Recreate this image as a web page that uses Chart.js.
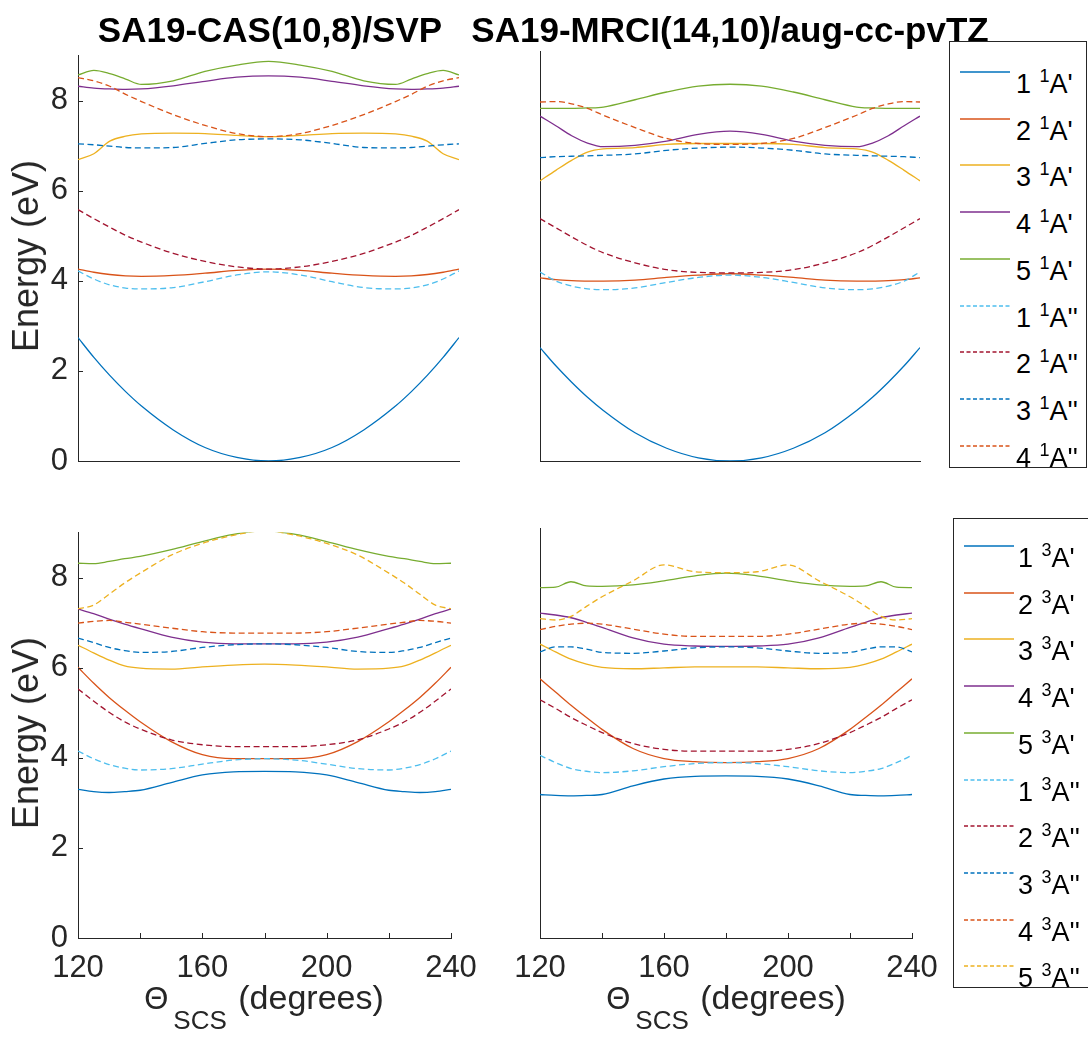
<!DOCTYPE html>
<html>
<head>
<meta charset="utf-8">
<script src="https://cdn.jsdelivr.net/npm/chart.js@4.4.1/dist/chart.umd.min.js"></script>
<style>
  html, body { margin: 0; padding: 0; background: #fff; }
  body { width: 1088px; height: 1042px; position: relative; overflow: hidden; font-family: 'Liberation Sans', Arial, sans-serif; color: #000; }
  .abs { position: absolute; white-space: nowrap; }
  .title { font-weight: bold; font-size: 35px; line-height: 35px; transform: translateX(-50%); }
  .ylab { font-size: 36px; line-height: 40px; transform: translate(-50%, -50%) rotate(-90deg); color: #262626; }
  .xlab { font-size: 34px; line-height: 34px; transform: translateX(-50%); color: #262626; }
  .xlab .th { font-size: 31px; }
  .xlab sub { font-size: 26px; vertical-align: -20px; margin-left: 5px; margin-right: 2px; }
  .legend { position: absolute; border: 1px solid #262626; background: #fff; }
  .legend .row { position: absolute; font-size: 27px; line-height: 28px; white-space: nowrap; }
  .legend sup { font-size: 18px; vertical-align: 11px; margin-left: 1px; }
  .legend svg { position: absolute; }
</style>
</head>
<body>

<script>
// ── Data ──────────────────────────────────────────────────────────────────
// scan angle (degrees), shared by every curve
const THETA = [120, 125, 130, 135, 140, 150, 160, 170, 180, 190, 200, 210, 220, 225, 230, 235, 240];

// singlets, SA19-CAS(10,8)/SVP
const casS_1Ap  = [2.74, 2.30, 1.90, 1.54, 1.22, 0.69, 0.30, 0.08, 0.00, 0.08, 0.30, 0.69, 1.22, 1.54, 1.90, 2.30, 2.74];
const casS_2Ap  = [4.26, 4.19, 4.14, 4.11, 4.10, 4.12, 4.17, 4.23, 4.26, 4.23, 4.17, 4.12, 4.10, 4.11, 4.14, 4.19, 4.26];
const casS_3Ap  = [6.69, 6.82, 7.10, 7.21, 7.26, 7.28, 7.27, 7.23, 7.20, 7.23, 7.27, 7.28, 7.26, 7.21, 7.10, 6.82, 6.69];
const casS_4Ap  = [8.32, 8.28, 8.26, 8.25, 8.26, 8.33, 8.43, 8.52, 8.55, 8.52, 8.43, 8.33, 8.26, 8.25, 8.26, 8.28, 8.32];
const casS_5Ap  = [8.57, 8.67, 8.60, 8.48, 8.36, 8.44, 8.65, 8.79, 8.87, 8.79, 8.65, 8.44, 8.36, 8.48, 8.60, 8.67, 8.57];
const casS_1App = [4.22, 4.04, 3.91, 3.84, 3.82, 3.85, 3.98, 4.13, 4.20, 4.13, 3.98, 3.85, 3.82, 3.84, 3.91, 4.04, 4.22];
const casS_2App = [5.58, 5.38, 5.19, 5.01, 4.86, 4.61, 4.43, 4.31, 4.26, 4.31, 4.43, 4.61, 4.86, 5.01, 5.19, 5.38, 5.58];
const casS_3App = [7.04, 7.02, 6.99, 6.96, 6.95, 6.96, 7.05, 7.13, 7.15, 7.13, 7.05, 6.96, 6.95, 6.96, 6.99, 7.02, 7.04];
const casS_4App = [8.51, 8.44, 8.32, 8.14, 7.98, 7.69, 7.45, 7.27, 7.20, 7.27, 7.45, 7.69, 7.98, 8.14, 8.32, 8.44, 8.51];

// singlets, SA19-MRCI(14,10)/aug-cc-pvTZ
const mrS_1Ap  = [2.49, 2.09, 1.73, 1.40, 1.11, 0.62, 0.28, 0.07, 0.00, 0.07, 0.28, 0.62, 1.11, 1.40, 1.73, 2.09, 2.49];
const mrS_2Ap  = [4.02, 3.98, 3.96, 3.95, 3.95, 3.97, 4.03, 4.08, 4.11, 4.08, 4.03, 3.97, 3.95, 3.95, 3.96, 3.98, 4.02];
const mrS_3Ap  = [6.15, 6.38, 6.60, 6.78, 6.85, 6.88, 6.95, 6.97, 6.97, 6.97, 6.95, 6.88, 6.85, 6.78, 6.60, 6.38, 6.15];
const mrS_4Ap  = [7.57, 7.36, 7.14, 6.98, 6.90, 6.93, 7.02, 7.17, 7.24, 7.17, 7.02, 6.93, 6.90, 6.98, 7.14, 7.36, 7.57];
const mrS_5Ap  = [7.74, 7.74, 7.74, 7.75, 7.77, 7.93, 8.10, 8.23, 8.27, 8.23, 8.10, 7.93, 7.77, 7.75, 7.74, 7.74, 7.74];
const mrS_1App = [4.15, 3.95, 3.84, 3.78, 3.76, 3.80, 3.92, 4.03, 4.08, 4.03, 3.92, 3.80, 3.76, 3.78, 3.84, 3.95, 4.15];
const mrS_2App = [5.32, 5.12, 4.92, 4.73, 4.57, 4.35, 4.20, 4.14, 4.13, 4.14, 4.20, 4.35, 4.57, 4.73, 4.92, 5.12, 5.32];
const mrS_3App = [6.66, 6.68, 6.69, 6.70, 6.71, 6.74, 6.82, 6.87, 6.89, 6.87, 6.82, 6.74, 6.71, 6.70, 6.69, 6.68, 6.66];
const mrS_4App = [7.88, 7.89, 7.84, 7.74, 7.59, 7.32, 7.08, 6.97, 6.95, 6.97, 7.08, 7.32, 7.59, 7.74, 7.84, 7.89, 7.88];

// triplets, SA19-CAS(10,8)/SVP
const casT_1Ap  = [3.30, 3.25, 3.23, 3.25, 3.28, 3.45, 3.62, 3.69, 3.70, 3.69, 3.62, 3.45, 3.28, 3.25, 3.23, 3.25, 3.30];
const casT_2Ap  = [6.01, 5.66, 5.34, 5.06, 4.80, 4.36, 4.07, 3.98, 3.98, 3.98, 4.07, 4.36, 4.80, 5.06, 5.34, 5.66, 6.01];
const casT_3Ap  = [6.50, 6.33, 6.17, 6.04, 5.99, 5.97, 6.02, 6.06, 6.08, 6.06, 6.02, 5.97, 5.99, 6.04, 6.17, 6.33, 6.50];
const casT_4Ap  = [7.30, 7.20, 7.08, 6.97, 6.87, 6.68, 6.57, 6.53, 6.53, 6.53, 6.57, 6.68, 6.87, 6.97, 7.08, 7.20, 7.30];
const casT_5Ap  = [8.32, 8.31, 8.36, 8.42, 8.47, 8.62, 8.80, 8.96, 9.04, 8.96, 8.80, 8.62, 8.47, 8.42, 8.36, 8.31, 8.32];
const casT_1App = [4.15, 3.98, 3.85, 3.77, 3.73, 3.76, 3.86, 3.95, 3.98, 3.95, 3.86, 3.76, 3.73, 3.77, 3.85, 3.98, 4.15];
const casT_2App = [5.53, 5.26, 5.01, 4.80, 4.64, 4.40, 4.29, 4.25, 4.25, 4.25, 4.29, 4.40, 4.64, 4.80, 5.01, 5.26, 5.53];
const casT_3App = [6.66, 6.56, 6.45, 6.38, 6.34, 6.36, 6.45, 6.51, 6.53, 6.51, 6.45, 6.36, 6.34, 6.38, 6.45, 6.56, 6.66];
const casT_4App = [6.99, 7.03, 7.05, 7.01, 6.97, 6.88, 6.80, 6.77, 6.77, 6.77, 6.80, 6.88, 6.97, 7.01, 7.05, 7.03, 6.99];
const casT_5App = [7.31, 7.39, 7.63, 7.88, 8.10, 8.50, 8.76, 8.94, 9.04, 8.94, 8.76, 8.50, 8.10, 7.88, 7.63, 7.39, 7.31];

// triplets, SA19-MRCI(14,10)/aug-cc-pvTZ
const mrT_1Ap  = [3.15, 3.13, 3.12, 3.13, 3.15, 3.34, 3.49, 3.55, 3.56, 3.55, 3.49, 3.34, 3.15, 3.13, 3.12, 3.13, 3.15];
const mrT_2Ap  = [5.69, 5.40, 5.11, 4.84, 4.58, 4.16, 3.94, 3.87, 3.85, 3.87, 3.94, 4.16, 4.58, 4.84, 5.11, 5.40, 5.69];
const mrT_3Ap  = [6.45, 6.28, 6.12, 6.01, 5.94, 5.91, 5.93, 5.95, 5.95, 5.95, 5.93, 5.91, 5.94, 6.01, 6.12, 6.28, 6.45];
const mrT_4Ap  = [7.13, 7.09, 7.03, 6.93, 6.82, 6.59, 6.45, 6.41, 6.40, 6.41, 6.45, 6.59, 6.82, 6.93, 7.03, 7.09, 7.13];
const mrT_5Ap  = [7.69, 7.70, 7.82, 7.73, 7.72, 7.75, 7.84, 7.95, 8.01, 7.95, 7.84, 7.75, 7.72, 7.73, 7.82, 7.70, 7.69];
const mrT_1App = [4.01, 3.85, 3.72, 3.66, 3.63, 3.67, 3.76, 3.83, 3.85, 3.83, 3.76, 3.67, 3.63, 3.66, 3.72, 3.85, 4.01];
const mrT_2App = [5.23, 5.04, 4.84, 4.67, 4.51, 4.27, 4.14, 4.10, 4.10, 4.10, 4.14, 4.27, 4.51, 4.67, 4.84, 5.04, 5.23];
const mrT_3App = [6.28, 6.39, 6.39, 6.34, 6.27, 6.25, 6.30, 6.37, 6.39, 6.37, 6.30, 6.25, 6.27, 6.34, 6.39, 6.39, 6.28];
const mrT_4App = [6.77, 6.84, 6.89, 6.91, 6.89, 6.78, 6.67, 6.62, 6.62, 6.62, 6.67, 6.78, 6.89, 6.91, 6.89, 6.84, 6.77];
const mrT_5App = [7.01, 6.98, 7.06, 7.28, 7.49, 7.84, 8.19, 8.04, 8.02, 8.04, 8.19, 7.84, 7.49, 7.28, 7.06, 6.98, 7.01];

// legend entries: state number and symmetry label
const STATE_NUM = ['1', '2', '3', '4', '5', '1', '2', '3', '4', '5'];
const STATE_SYM = ["A'", "A'", "A'", "A'", "A'", "A''", "A''", "A''", "A''", "A''"];

// axis ticks
const X_TICKS_LABELLED = [120, 160, 200, 240];
const Y_TICKS = [0, 2, 4, 6, 8];

// MATLAB default line colour order
const COLORS = ['#0072BD', '#D95319', '#EDB120', '#7E2F8E', '#77AC30', '#4DBEEE', '#A2142F'];
const FONT = "'Liberation Sans', Arial, sans-serif";
const AXIS = '#262626';

// ── Inward tick marks (MATLAB style) ─────────────────────────────────────
const inTicks = {
    id: 'inTicks',
    afterDatasetsDraw(chart, args, opts) {
        const { ctx, chartArea: a, scales: { x, y } } = chart;
        ctx.save();
        ctx.strokeStyle = AXIS;
        ctx.lineWidth = 1;
        ctx.beginPath();
        if (opts.x) x.ticks.forEach(t => {
            const px = Math.round(x.getPixelForValue(t.value)) + 0.5;
            ctx.moveTo(px, a.bottom); ctx.lineTo(px, a.bottom - 5);
        });
        if (opts.y) y.ticks.forEach(t => {
            const py = Math.round(y.getPixelForValue(t.value)) + 0.5;
            ctx.moveTo(a.left, py); ctx.lineTo(a.left + 5, py);
        });
        ctx.stroke();
        ctx.restore();
    }
};

// ── Panel builder ────────────────────────────────────────────────────────
// fixed margins so the plot area lands exactly on the given box
const Y_AXIS_W = 80, X_AXIS_H = 60, PAD_T = 24, PAD_R = 50;

function makePanel(box, series, showX, showY) {
    const cv = document.createElement('canvas');
    const w = (box.r - box.l) + Y_AXIS_W + PAD_R;
    const h = (box.b - box.t) + PAD_T + X_AXIS_H;
    cv.width = w; cv.height = h;
    cv.style.cssText = `position:absolute;left:${box.l - Y_AXIS_W}px;top:${box.t - PAD_T}px;width:${w}px;height:${h}px;`;
    document.body.appendChild(cv);

    const datasets = series.map((vals, i) => ({
        data: vals.map((v, k) => ({ x: THETA[k], y: v })),
        borderColor: COLORS[i % COLORS.length],
        borderWidth: 1.3,
        borderDash: i >= 5 ? [6, 3.5] : [],
        pointRadius: 0,
        cubicInterpolationMode: 'monotone',
        fill: false,
        order: 20 - i
    }));

    return new Chart(cv.getContext('2d'), {
        type: 'line',
        data: { datasets },
        options: {
            responsive: false,
            animation: false,
            layout: { padding: { top: PAD_T, right: PAD_R, left: 0, bottom: 0 } },
            plugins: { legend: { display: false }, tooltip: { enabled: false }, inTicks: { x: showX, y: showY } },
            scales: {
                x: {
                    type: 'linear', min: 120, max: 240,
                    grid: { display: false, drawTicks: false },
                    border: { display: true, color: AXIS, width: 1 },
                    ticks: {
                        display: showX, stepSize: 20, autoSkip: false, maxRotation: 0, padding: 12,
                        color: AXIS, font: { family: FONT, size: 31 },
                        callback: v => X_TICKS_LABELLED.includes(v) ? String(v) : ''
                    },
                    afterFit: s => { s.height = X_AXIS_H; }
                },
                y: {
                    min: 0, max: 9,
                    grid: { display: false, drawTicks: false },
                    border: { display: true, color: AXIS, width: 1 },
                    afterBuildTicks: s => { s.ticks = Y_TICKS.map(v => ({ value: v })); },
                    ticks: {
                        display: showY, padding: 10,
                        color: AXIS, font: { family: FONT, size: 31 }
                    },
                    afterFit: s => { s.width = Y_AXIS_W; }
                }
            }
        },
        plugins: [inTicks]
    });
}

// ── HTML text: titles, axis labels, legends ──────────────────────────────
function addText(cls, html, left, top) {
    const d = document.createElement('div');
    d.className = 'abs ' + cls;
    d.innerHTML = html;
    d.style.left = left + 'px';
    d.style.top = top + 'px';
    document.body.appendChild(d);
}

function addLegend(box, mult, rowTop, rowStep, lineL, textL) {
    const lg = document.createElement('div');
    lg.className = 'legend';
    lg.style.cssText = `left:${box.l}px;top:${box.t}px;width:${box.w}px;height:${box.h}px;`;
    const n = mult === '1' ? 9 : 10;
    for (let i = 0; i < n; i++) {
        const cy = rowTop + i * rowStep;
        const col = COLORS[i % COLORS.length];
        const dash = i >= 5 ? 'stroke-dasharray="4 2.5"' : '';
        lg.insertAdjacentHTML('beforeend',
            `<svg style="left:${lineL}px;top:${cy - 2}px" width="50" height="4"><line x1="0" y1="2" x2="50" y2="2" stroke="${col}" stroke-width="1.4" ${dash}/></svg>` +
            `<div class="row" style="left:${textL}px;top:${cy - 10}px">${STATE_NUM[i]} <sup>${mult}</sup>${STATE_SYM[i]}</div>`);
    }
    document.body.appendChild(lg);
}

// ── Build page ───────────────────────────────────────────────────────────
Chart.defaults.font.family = FONT;

makePanel({ l: 78,  r: 459, t: 51,  b: 461 }, [casS_1Ap, casS_2Ap, casS_3Ap, casS_4Ap, casS_5Ap, casS_1App, casS_2App, casS_3App, casS_4App], false, true);
makePanel({ l: 540, r: 920, t: 51,  b: 461 }, [mrS_1Ap, mrS_2Ap, mrS_3Ap, mrS_4Ap, mrS_5Ap, mrS_1App, mrS_2App, mrS_3App, mrS_4App], false, false);
makePanel({ l: 78,  r: 451, t: 528, b: 938 }, [casT_1Ap, casT_2Ap, casT_3Ap, casT_4Ap, casT_5Ap, casT_1App, casT_2App, casT_3App, casT_4App, casT_5App], true, true);
makePanel({ l: 540, r: 912, t: 528, b: 938 }, [mrT_1Ap, mrT_2Ap, mrT_3Ap, mrT_4Ap, mrT_5Ap, mrT_1App, mrT_2App, mrT_3App, mrT_4App, mrT_5App], true, false);

addText('title', 'SA19-CAS(10,8)/SVP', 270, 12);
addText('title', 'SA19-MRCI(14,10)/aug-cc-pvTZ', 730, 12);
addText('ylab', 'Energy (eV)', 26, 256);
addText('ylab', 'Energy (eV)', 26, 733);
addText('xlab', '<span class="th">&Theta;</span><sub>SCS</sub> (degrees)', 264, 980);
addText('xlab', '<span class="th">&Theta;</span><sub>SCS</sub> (degrees)', 726, 980);

addLegend({ l: 949, t: 41,  w: 136, h: 425 }, '1', 30, 46.7, 10, 66);
addLegend({ l: 953, t: 518, w: 140, h: 468 }, '3', 27, 46.7, 10, 64);
</script>
</body>
</html>
